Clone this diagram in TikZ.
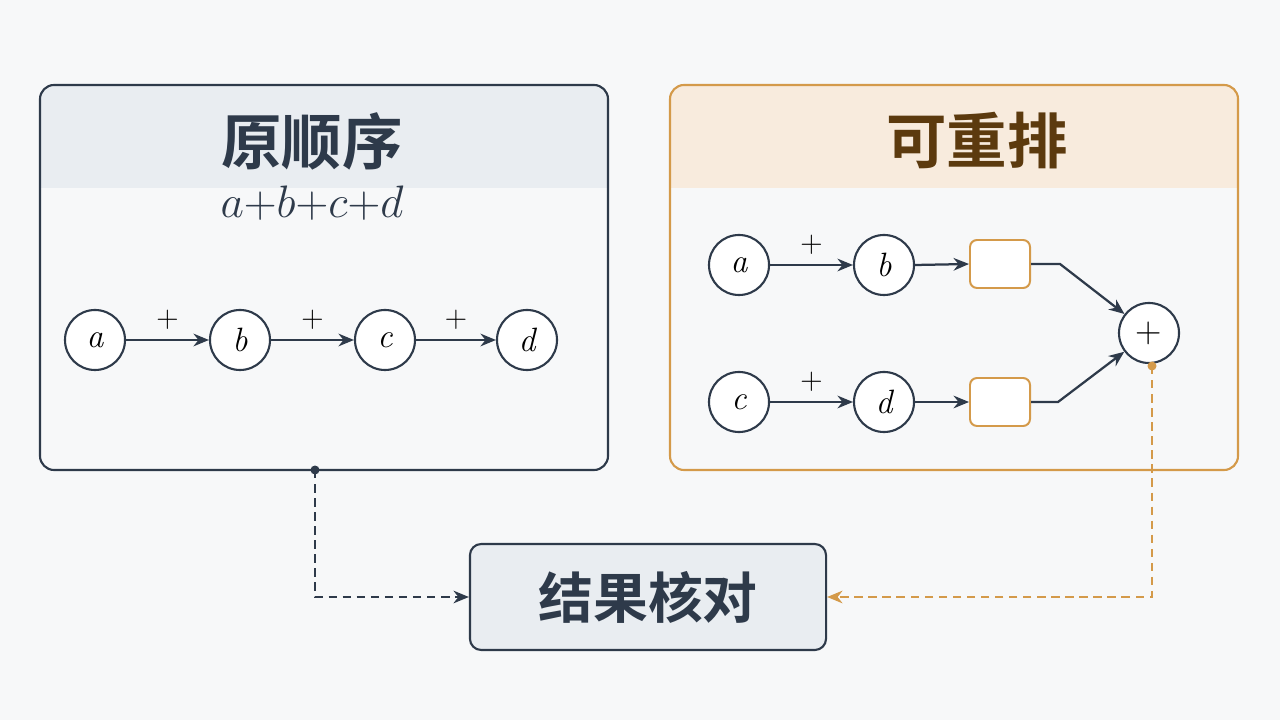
\documentclass[tikz,border=0pt]{standalone}
\usepackage{graphicx}
\usepackage{fontspec}
\newfontfamily\cjk{Noto Sans CJK SC}[BoldFont={Noto Sans CJK SC Bold}]
\usetikzlibrary{arrows.meta}
\definecolor{dk}{HTML}{2E3A4A}
\definecolor{org}{HTML}{D49A4A}
\definecolor{brn}{HTML}{5C3A0E}
\definecolor{hdl}{HTML}{E9EDF1}
\definecolor{hdr}{HTML}{F8EBDD}
\definecolor{bg}{HTML}{F7F8F9}
\begin{document}
\begin{tikzpicture}[x=0.025cm,y=-0.025cm,
 cir/.style={circle,draw=dk,line width=1.5pt,fill=white,minimum size=1.5cm,inner sep=0pt,font=\fontsize{24}{24}\selectfont\itshape},
 rbox/.style={draw=org,line width=1.4pt,rounded corners=5pt,fill=white,minimum width=1.5cm,minimum height=1.2cm},
 arr/.style={draw=dk,line width=1.6pt,-{Stealth[length=11pt,width=9pt]}},
 pl/.style={font=\fontsize{22}{22}\selectfont},
 ttl/.style={font=\cjk\bfseries\fontsize{43}{43}\selectfont}]
\fill[bg] (0,0) rectangle (1280,720);
% left panel
\begin{scope}
\clip[rounded corners=10pt] (40,85) rectangle (608,470);
\fill[bg] (40,85) rectangle (608,470);
\fill[hdl] (40,85) rectangle (608,188);
\end{scope}
\draw[dk,line width=1.5pt,rounded corners=10pt] (40,85) rectangle (608,470);
\node[ttl,text=dk] (t1) at (312,141) {原顺序};
\node[text=dk] (f1) at (312,203) {\scalebox{1.3}{\fontsize{25}{25}\selectfont$a{+}b{+}c{+}d$}};
\node[cir] (a1) at (95,340) {a};
\node[cir] (b1) at (240,340) {b};
\node[cir] (c1) at (385,340) {c};
\node[cir] (d1) at (527,340) {d};
\draw[arr] (a1)--node[pl,above=3pt]{+}(b1);
\draw[arr] (b1)--node[pl,above=3pt]{+}(c1);
\draw[arr] (c1)--node[pl,above=3pt]{+}(d1);
% right panel
\begin{scope}
\clip[rounded corners=10pt] (670,85) rectangle (1238,470);
\fill[bg] (670,85) rectangle (1238,470);
\fill[hdr] (670,85) rectangle (1238,188);
\end{scope}
\draw[org,line width=1.5pt,rounded corners=10pt] (670,85) rectangle (1238,470);
\node[ttl,text=brn] (t2) at (977,141) {可重排};
\node[cir] (a2) at (739,265) {a};
\node[cir] (b2) at (884,265) {b};
\node[cir] (c2) at (739,402) {c};
\node[cir] (d2) at (884,402) {d};
\node[rbox] (r1) at (1000,264) {};
\node[rbox] (r2) at (1000,402) {};
\node[cir,font=\fontsize{26}{26}\selectfont] (p) at (1149,333) {+};
\draw[arr] (a2)--node[pl,above=3pt]{+}(b2);
\draw[arr] (c2)--node[pl,above=3pt]{+}(d2);
\draw[arr] (b2.east)--(r1.west);
\draw[arr] (d2)--(r2);
\draw[arr] (r1.east)--(1060,264)--(p);
\draw[arr] (r2.east)--(1058,402)--(p);
% result
\node[draw=dk,line width=1.5pt,fill=hdl,rounded corners=8pt,minimum width=8.9cm,minimum height=2.65cm,ttl,font=\cjk\bfseries\fontsize{39}{39}\selectfont,text=dk] (res) at (648,597) {结果核对};
\coordinate (lb) at (315,470);
\fill[dk] (lb) circle (4.5);
\draw[dk,line width=1.4pt,dash pattern=on 6pt off 4pt,-{Stealth[length=11pt,width=9pt]}] (lb)--(315,597)--(res.west);
\coordinate (pb) at (1152,366);
\fill[org] (pb) circle (4.5);
\draw[org,line width=1.4pt,dash pattern=on 6pt off 4pt,-{Stealth[length=11pt,width=9pt]}] (pb)--(1152,597)--(res.east);
\end{tikzpicture}
\end{document}
